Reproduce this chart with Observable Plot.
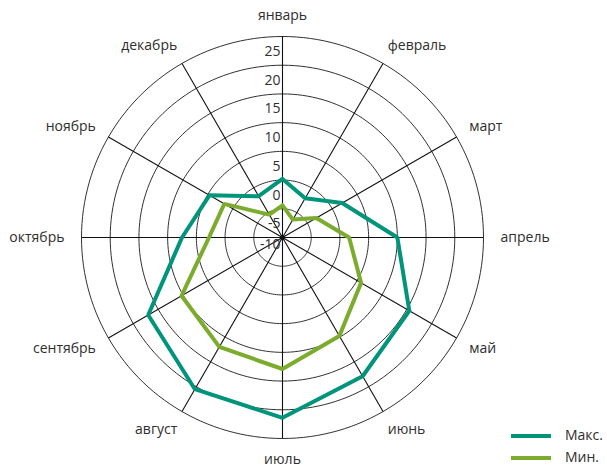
<!DOCTYPE html>
<html>
<head>
<meta charset="utf-8">
<script src="https://cdn.jsdelivr.net/npm/d3@7"></script>
<script src="https://cdn.jsdelivr.net/npm/@observablehq/plot@0.6"></script>
<style>
  html, body { margin: 0; padding: 0; background: #fff; }
  #wrap { position: relative; width: 607px; height: 467px; font-family: "Open Sans", sans-serif; color: #2e2e2e; overflow: hidden; }
  .sw { position: absolute; left: 511px; width: 40px; height: 4px; }
  .lt { position: absolute; left: 565px; font-size: 14px; line-height: 16px; }
</style>
</head>
<body>
<div id="wrap"></div>
<script>
// ---- data ----
const months = ["январь","февраль","март","апрель","май","июнь","июль","август","сентябрь","октябрь","ноябрь","декабрь"];
const maxTemp = [0.2, -2.1, 2.0, 10.0, 15.5, 17.9, 21.4, 20.5, 17.0, 7.5, 4.7, -1.7];
const minTemp = [-4.4, -6.4, -3.2, 1.6, 5.8, 9.8, 12.9, 12.0, 10.3, 2.8, 1.7, -5.4];
const seriesNames = ["Макс.", "Мин."];
const seriesColors = ["#00957a", "#7cac2d"];
const tickValues = [-10, -5, 0, 5, 10, 15, 20, 25];
const rMin = -10, rMax = 25;

// ---- geometry helpers (data space) ----
const W = 607, H = 467, cx = 282, cy = 237, Rpx = 201;
const k = Rpx / (rMax - rMin); // px per unit
const ang = i => i * Math.PI / 6;
const pol = (v, i) => ({ x: (v - rMin) * Math.sin(ang(i)), y: (v - rMin) * Math.cos(ang(i)) });

const seriesRows = [];
[maxTemp, minTemp].forEach((vals, s) => {
  vals.concat([vals[0]]).forEach((v, j) => {
    const i = j % 12;
    seriesRows.push({ series: seriesNames[s], month: months[i], value: v, ...pol(v, i) });
  });
});

const ringRows = [];
tickValues.filter(v => v > rMin).forEach(v => {
  for (let a = 0; a <= 360; a += 2) {
    const t = a * Math.PI / 180;
    ringRows.push({ ring: v, x: (v - rMin) * Math.sin(t), y: (v - rMin) * Math.cos(t) });
  }
});

const spokeRows = months.map((m, i) => ({ month: m, ...pol(rMax, i) }));

const labelRows = months.map((m, i) => {
  const s = Math.sin(ang(i)), c = Math.cos(ang(i));
  const rx = (208 + 10 * s * s) / k, ry = 222 / k;
  return { month: m, s, x: rx * s, y: ry * c };
});

const tickRows = tickValues.map(v => ({ v, label: String(v), x: 0, y: v - rMin }));

const chart = Plot.plot({
  width: W, height: H,
  margin: 0,
  x: { domain: [-cx / k, (W - cx) / k], range: [0, W], axis: null },
  y: { domain: [-(H - cy) / k, cy / k], range: [H, 0], axis: null },
  style: { fontFamily: "'Open Sans', sans-serif", fontSize: "14px", color: "#2e2e2e", background: "#fff" },
  marks: [
    Plot.line(ringRows, { x: "x", y: "y", z: "ring", stroke: "#1a1a1a", strokeWidth: 0.9 }),
    Plot.link(spokeRows, { x1: () => 0, y1: () => 0, x2: "x", y2: "y", stroke: "#111", strokeWidth: 1.1 }),
    Plot.dot([{ x: 0, y: 0 }], { x: "x", y: "y", r: 2.5, fill: "#111" }),
    Plot.text(tickRows.filter(d => d.v > rMin), { x: "x", y: "y", text: "label", textAnchor: "end", dx: -2, dy: 15, fill: "#2e2e2e", fontSize: 14 }),
    Plot.text(tickRows.filter(d => d.v === rMin), { x: "x", y: "y", text: "label", textAnchor: "end", dx: -2, dy: 7, fill: "#2e2e2e", fontSize: 14 }),
    Plot.line(seriesRows, {
      x: "x", y: "y", z: "series",
      stroke: d => seriesColors[seriesNames.indexOf(d.series)],
      strokeWidth: 4, strokeLinejoin: "miter", curve: "linear"
    }),
    Plot.text(labelRows.filter(d => d.s > 0.01), { x: "x", y: "y", text: "month", textAnchor: "start", fill: "#2e2e2e", fontSize: 14 }),
    Plot.text(labelRows.filter(d => d.s < -0.01), { x: "x", y: "y", text: "month", textAnchor: "end", fill: "#2e2e2e", fontSize: 14 }),
    Plot.text(labelRows.filter(d => Math.abs(d.s) <= 0.01), { x: "x", y: "y", text: "month", textAnchor: "middle", fill: "#2e2e2e", fontSize: 14 })
  ]
});

const wrap = document.getElementById("wrap");
wrap.appendChild(chart);

// legend overlay
const legendTops = [434, 456];
seriesNames.forEach((name, s) => {
  const sw = document.createElement("div");
  sw.className = "sw";
  sw.style.top = legendTops[s] + "px";
  sw.style.background = seriesColors[s];
  wrap.appendChild(sw);
  const lt = document.createElement("div");
  lt.className = "lt";
  lt.style.top = (legendTops[s] - 7) + "px";
  lt.textContent = name;
  wrap.appendChild(lt);
});
</script>
</body>
</html>
